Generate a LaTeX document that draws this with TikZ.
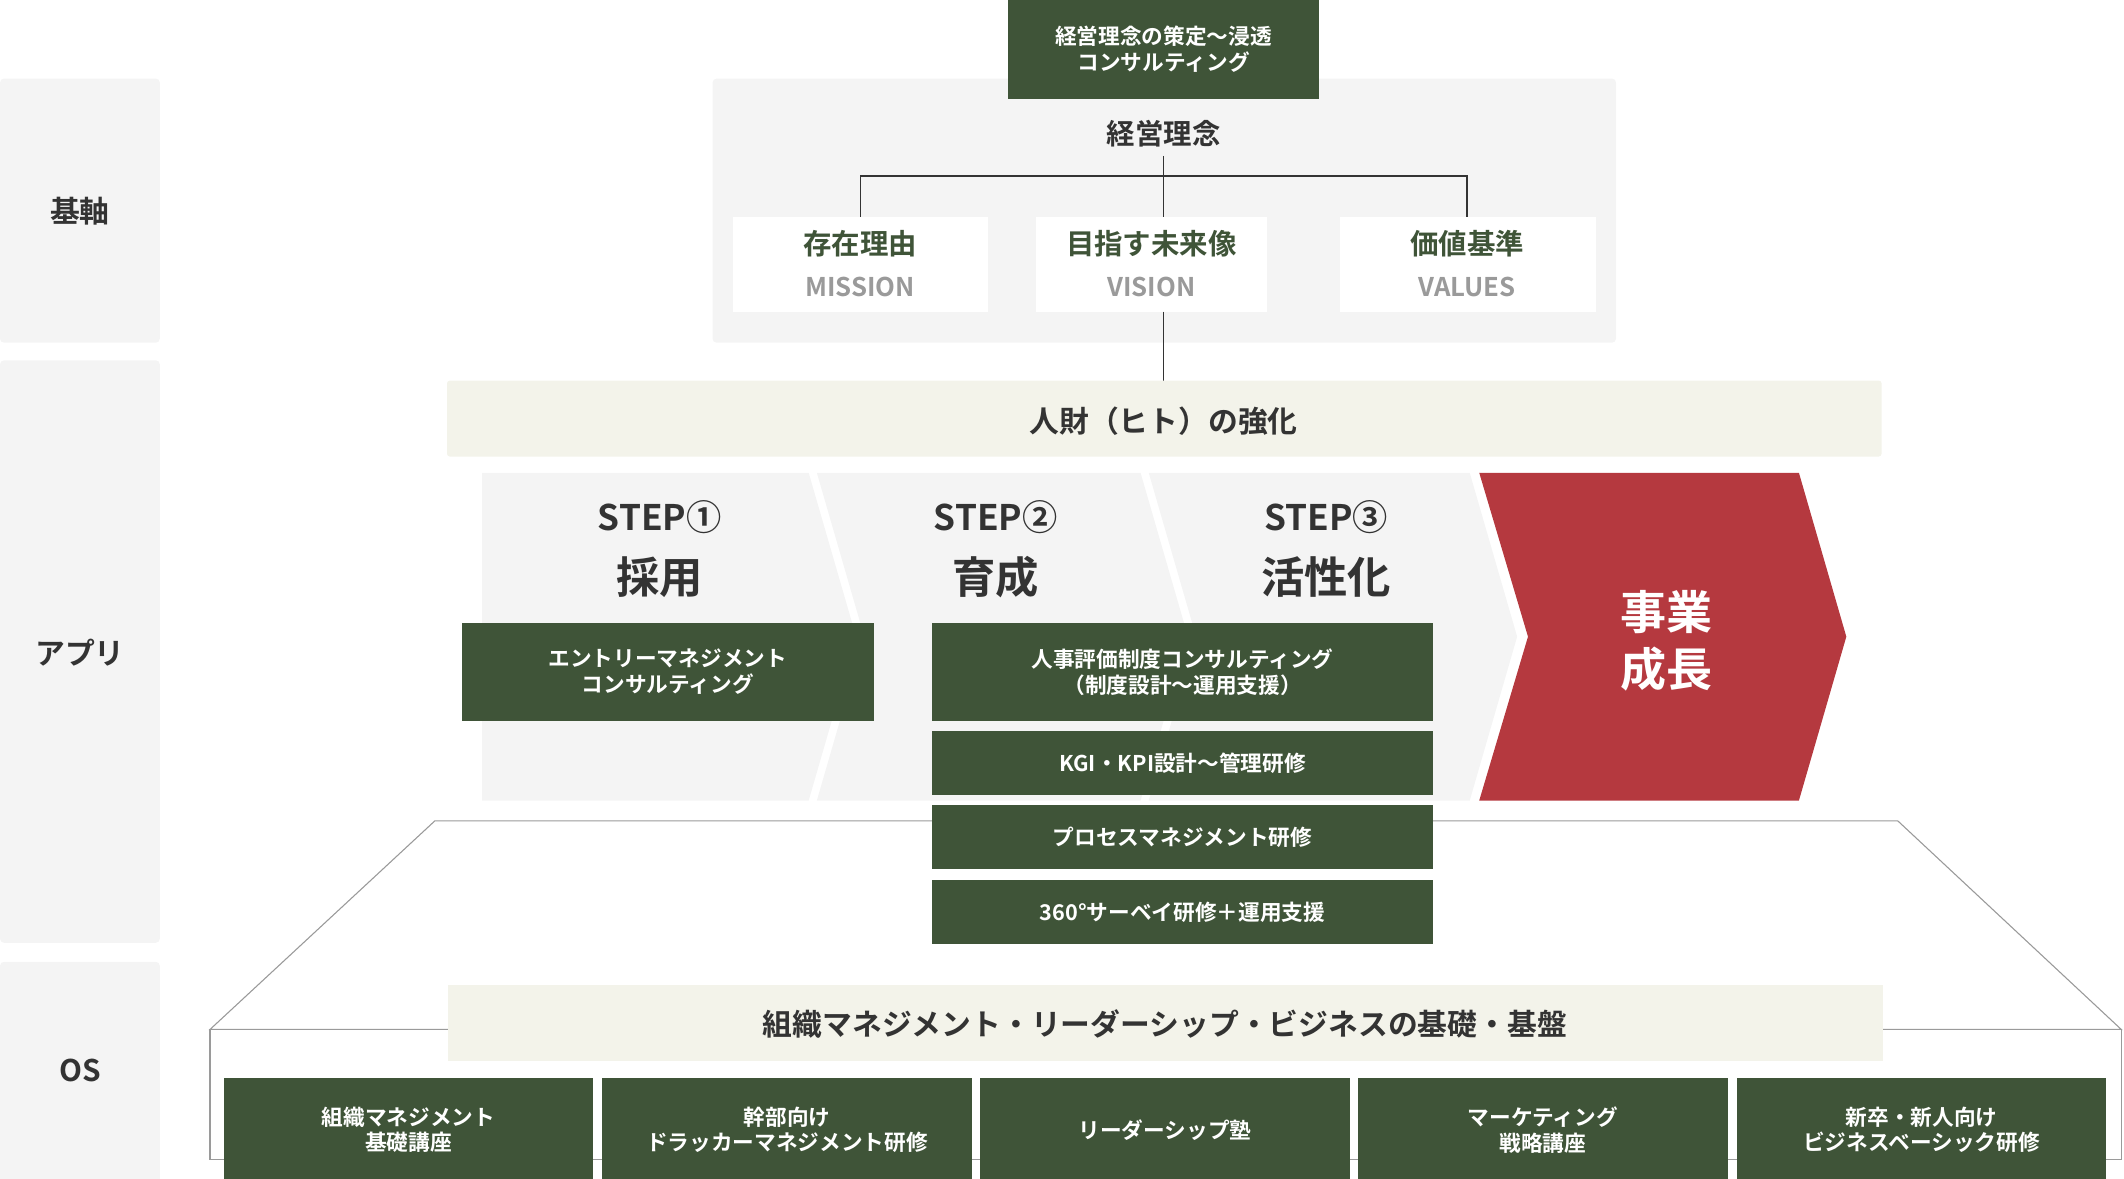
\documentclass[tikz,border=0pt]{standalone}
\usepackage{fontspec}
\newfontfamily\jp{Noto Sans CJK JP}[BoldFont={* Bold}]
\definecolor{dgreen}{HTML}{3F5438}
\definecolor{lgray}{HTML}{F4F4F4}
\definecolor{beige}{HTML}{F3F3EA}
\definecolor{red1}{HTML}{B5393F}
\definecolor{tgray}{HTML}{333333}
\definecolor{sgray}{HTML}{9A9A9A}
\definecolor{ltgreen}{HTML}{3F5438}
\begin{document}
\begin{tikzpicture}[x=1pt,y=-1pt,
  gbox/.style={fill=dgreen,text=white,font=\jp\bfseries\fontsize{16}{19}\selectfont,align=center,inner sep=0},
  lab/.style={font=\jp\bfseries\fontsize{22}{26}\selectfont,text=tgray,align=center},
  panel/.style={fill=lgray,rounded corners=3pt}]
\useasboundingbox (0,0) rectangle (1568,870);
% left panels
\fill[panel] (0,58) rectangle (118,253);
\fill[panel] (0,266) rectangle (118,696);
\fill[panel] (0,710) rectangle (118,875);
\node[lab] (k1) at (59,156) {基軸};
\node[lab] (k2) at (59,482) {アプリ};
\node[lab] (k3) at (59,790) {OS};
% top
\fill[panel] (526,58) rectangle (1193,253);
\node[gbox,minimum width=230,minimum height=73] (top) at (859,36.5) {経営理念の策定〜浸透\\コンサルティング};
\node[lab,font=\jp\bfseries\fontsize{21}{24}\selectfont] (kr) at (859,99) {経営理念};
\fill[white] (541,160) rectangle (729,230);
\fill[white] (765,160) rectangle (935,230);
\fill[white] (989,160) rectangle (1178,230);
\draw[tgray,line width=1] (859,115) -- (859,160) (635,160) -- (635,130) -- (1083,130) -- (1083,160) (859,230) -- (859,281);
\foreach \x/\a/\b in {635/存在理由/MISSION,850/目指す未来像/VISION,1083/価値基準/VALUES}{
  \node[font=\jp\bfseries\fontsize{21}{24}\selectfont,text=dgreen] at (\x,180) {\a};
  \node[font=\jp\bfseries\fontsize{19}{22}\selectfont,text=sgray] at (\x,212) {\b};}
% beige bar
\fill[beige,rounded corners=2pt] (330,281) rectangle (1389,337);
\node[lab] (hz) at (859,311) {人財（ヒト）の強化};
% chevrons
\fill[lgray] (356,349) -- (597,349) -- (632,470) -- (597,591) -- (356,591) -- cycle;
\fill[lgray] (603,349) -- (842,349) -- (877,470) -- (842,591) -- (603,591) -- (638,470) -- cycle;
\fill[lgray] (848,349) -- (1085,349) -- (1120,470) -- (1085,591) -- (848,591) -- (883,470) -- cycle;
\fill[red1] (1092,349) -- (1328,349) -- (1363,470) -- (1328,591) -- (1092,591) -- (1128,470) -- cycle;
\foreach \x/\s/\t in {487/STEP①/採用,735/STEP②/育成,979/STEP③/活性化}{
  \node[font=\jp\bfseries\fontsize{26}{30}\selectfont,text=tgray] at (\x,382) {\s};
  \node[font=\jp\bfseries\fontsize{32}{36}\selectfont,text=tgray] at (\x,426) {\t};}
\node[font=\jp\bfseries\fontsize{34}{42}\selectfont,text=white,align=center] (gr) at (1230,473) {事業\\成長};
% OS platform
\filldraw[fill=white,draw=sgray,line width=0.8] (321,606) -- (1401,606) -- (1566,760) -- (155,760) -- cycle;
\filldraw[fill=white,draw=sgray,line width=0.8] (155,760) rectangle (1566,856);
\fill[beige] (331,727) rectangle (1390,783);
\node[lab] (os) at (860,756) {組織マネジメント・リーダーシップ・ビジネスの基礎・基盤};
% green boxes
\node[gbox,minimum width=304,minimum height=72] (e1) at (493,496) {エントリーマネジメント\\コンサルティング};
\node[gbox,minimum width=370,minimum height=72] (e2) at (873,496) {人事評価制度コンサルティング\\（制度設計〜運用支援）};
\node[gbox,minimum width=370,minimum height=47] (e3) at (873,563.5) {KGI・KPI設計〜管理研修};
\node[gbox,minimum width=370,minimum height=47] (e4) at (873,618) {プロセスマネジメント研修};
\node[gbox,minimum width=370,minimum height=47] (e5) at (873,673.5) {360°サーベイ研修＋運用支援};
\foreach \x/\t [count=\i] in {301.5/組織マネジメント\\基礎講座,581/幹部向け\\ドラッカーマネジメント研修,860/リーダーシップ塾,1139/マーケティング\\戦略講座,1418.5/新卒・新人向け\\ビジネスベーシック研修}{
  \node[gbox,minimum width=273,minimum height=76] (b\i) at (\x,834) {\t};}
\end{tikzpicture}
\end{document}
